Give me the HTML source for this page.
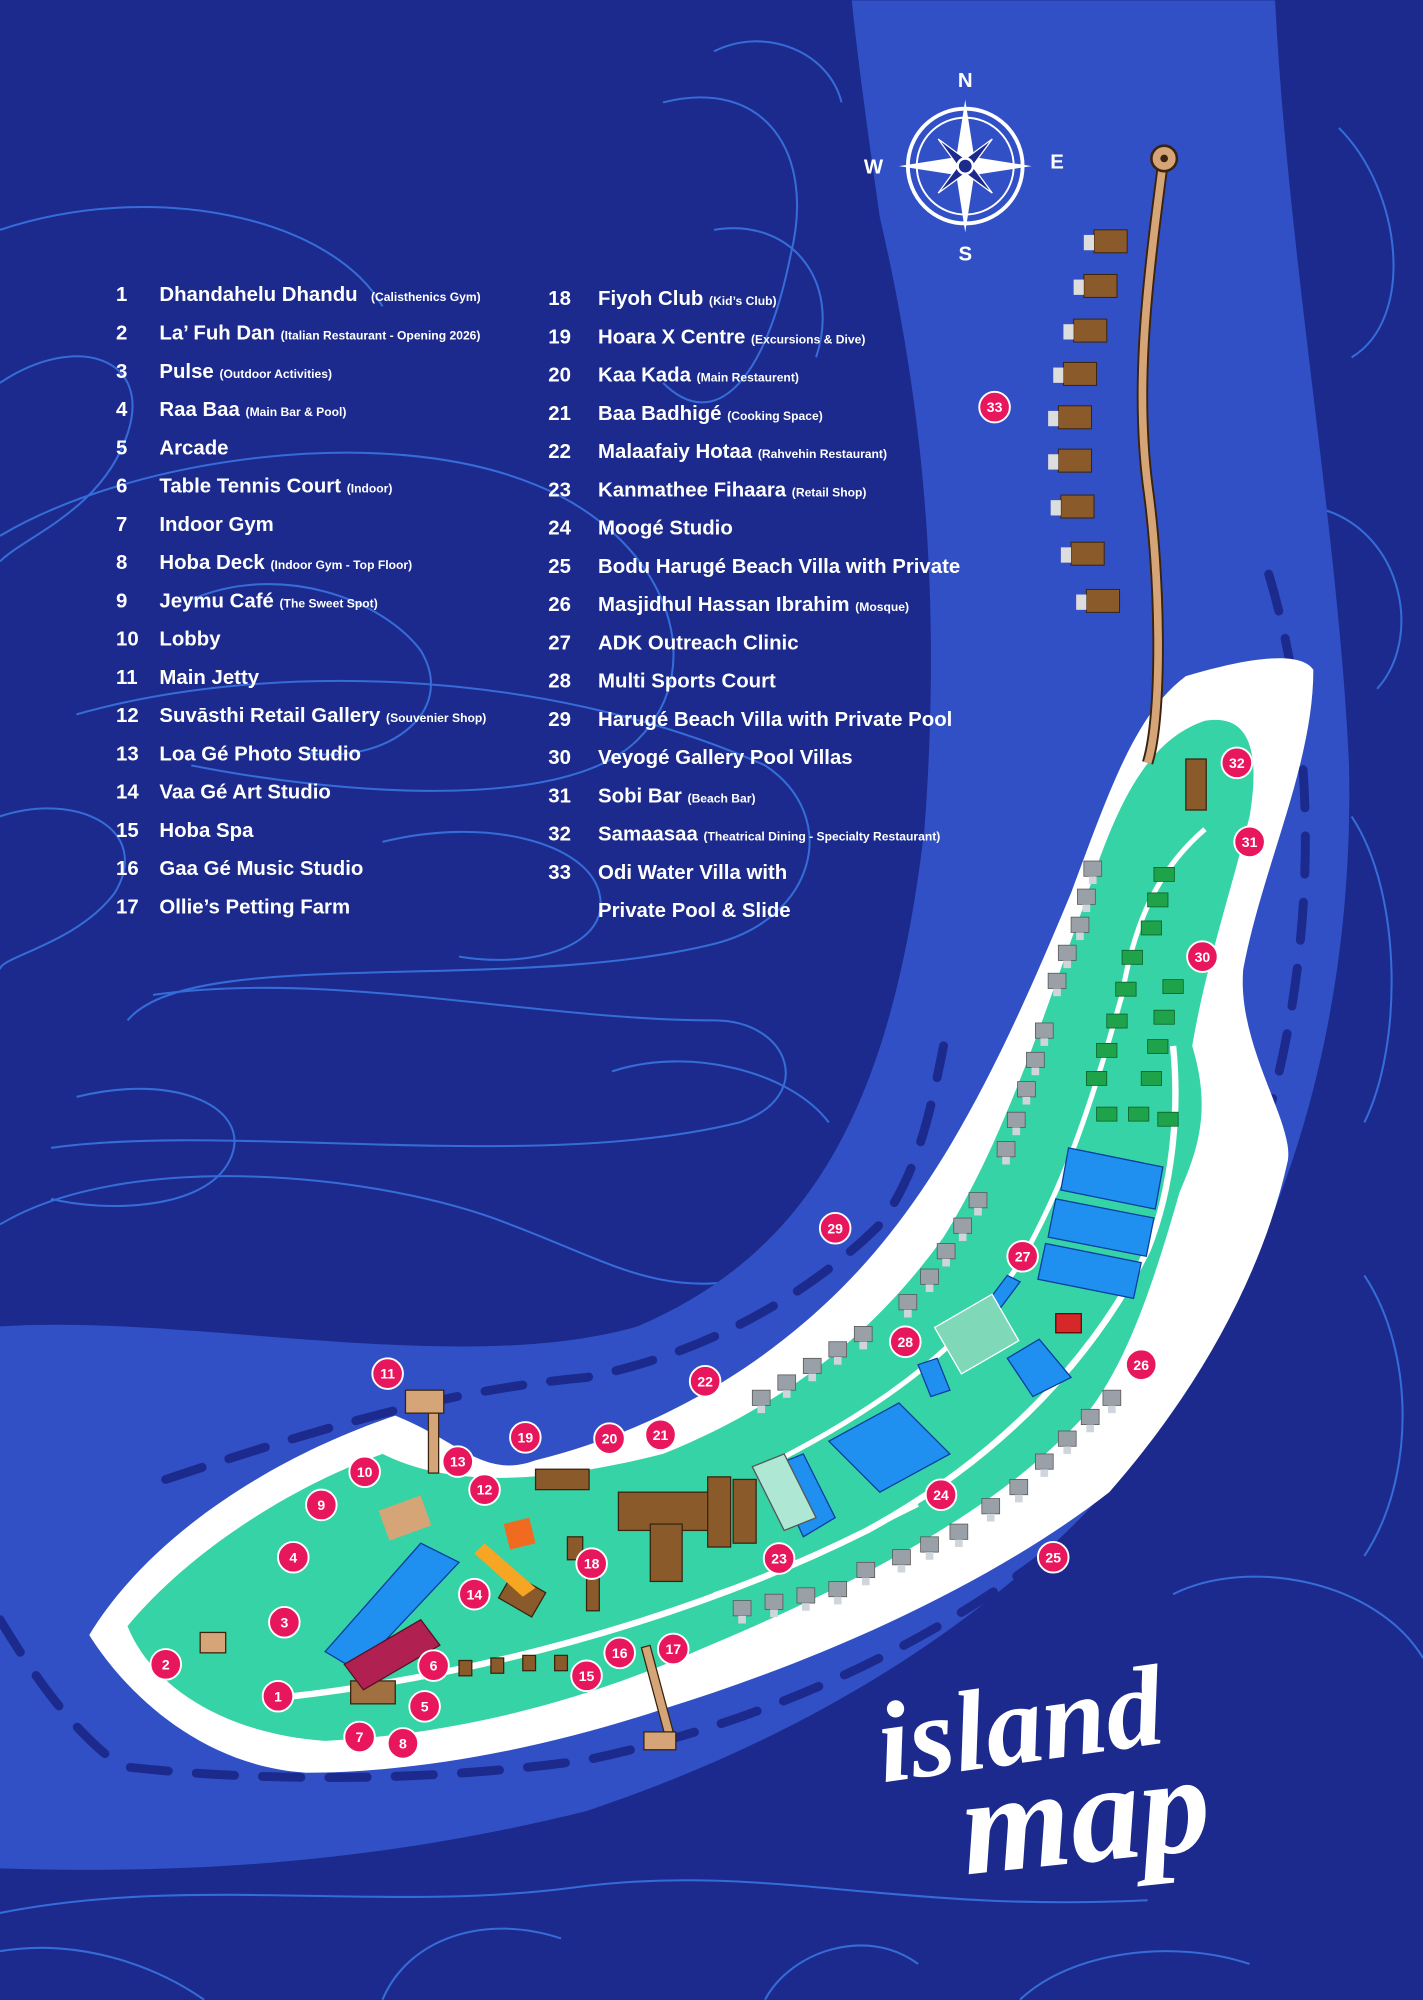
<!DOCTYPE html>
<html><head><meta charset="utf-8"><style>
html,body{margin:0;padding:0;background:#1b2a8c;}
svg{display:block}
.lg{font-family:"Liberation Sans",sans-serif;font-weight:bold;fill:#fff;font-size:16px}
.sm{font-size:9.5px;font-weight:bold}
.mk text{font-family:"Liberation Sans",sans-serif;font-weight:bold;fill:#fff;font-size:11px;text-anchor:middle}
</style></head><body>
<svg width="1423" height="2000" viewBox="0 0 1116 1568" xmlns="http://www.w3.org/2000/svg">
<defs>
<g id="v"><rect x="0" y="0" width="14" height="12" fill="#9aa0a8" stroke="#555" stroke-width="0.6"/><rect x="4" y="12" width="6" height="6" fill="#cfd5da"/></g>
<g id="g"><rect x="0" y="0" width="16" height="11" fill="#1fa34a" stroke="#0c5a25" stroke-width="0.6"/></g>
<g id="w"><rect x="0" y="0" width="26" height="18" fill="#8a5a2b" stroke="#3a240f" stroke-width="0.8"/><rect x="-8" y="4" width="8" height="12" fill="#ddd"/></g>
<circle id="m" r="12" fill="#e8175d" stroke="#fff" stroke-width="1.5"/>
</defs>
<rect width="1116" height="1568" fill="#1b2a8c"/>
<g fill="none" stroke="#3a78e6" stroke-width="1.6" opacity="0.85">
<path d="M0 420 C100 360 300 330 420 380 C520 420 560 520 500 580 C440 640 250 620 150 600"/>
<path d="M60 560 C200 520 420 520 600 600 C660 640 640 720 560 740 C400 780 150 740 100 800"/>
<path d="M120 780 C260 760 420 800 560 800 C620 800 640 860 580 880 C420 920 180 880 40 900"/>
<path d="M520 80 C600 60 640 120 620 200 C600 300 560 340 520 300"/>
<path d="M0 960 C100 900 300 920 400 960 C480 990 520 1020 600 1000"/>
<path d="M0 300 C60 260 120 280 100 340 C80 400 20 420 0 440"/>
<path d="M0 640 C60 620 120 650 90 700 C60 740 0 750 0 760"/>
<path d="M150 470 C220 440 300 470 330 510 C360 560 300 600 240 590"/>
<path d="M300 660 C380 640 460 660 470 700 C480 740 420 760 360 750"/>
<path d="M60 860 C140 840 200 870 180 910 C160 950 80 950 40 940"/>
<path d="M480 840 C540 820 620 840 650 880"/>
<path d="M1050 100 C1100 150 1110 250 1060 280 M1040 400 C1100 420 1116 500 1080 540"/>
<path d="M1060 640 C1100 700 1100 820 1070 880 M1070 1000 C1110 1060 1110 1160 1070 1220"/>
<path d="M920 1250 C980 1220 1080 1240 1116 1300"/>
<path d="M0 1500 C150 1470 300 1500 450 1480 C600 1460 700 1500 900 1490"/>
<path d="M300 1568 C320 1520 380 1500 440 1520 M600 1568 C620 1530 680 1510 720 1540"/>
<path d="M0 1530 C60 1520 120 1540 160 1568 M800 1568 C840 1530 920 1520 980 1540"/>
<path d="M0 180 C120 140 260 170 300 240"/>
<path d="M560 180 C620 170 660 220 640 280"/>
<path d="M560 40 C600 20 650 40 660 80"/>
</g>
<path d="M668 0 L1000 0 C1010 200 1050 420 1058 600 C1062 800 1010 980 900 1130 C800 1260 640 1360 460 1420 C300 1460 150 1470 0 1465 L0 1040 C150 1030 360 1080 500 1040 C640 980 700 860 725 650 C740 450 720 300 690 170 C680 100 672 40 668 0 Z" fill="#3150c6"/>
<g fill="none" stroke="#1b2a8c" stroke-width="7" stroke-linecap="round" stroke-dasharray="30 22">
<path d="M995 450 C1040 600 1030 780 980 920"/>
<path d="M900 1150 C800 1250 650 1340 460 1380 C320 1400 180 1395 95 1385"/>
<path d="M0 1270 C30 1320 60 1360 95 1385"/>
<path d="M130 1160 C250 1120 350 1090 460 1080 C560 1060 640 1010 690 960 C720 920 730 870 740 820"/>
</g>
<path d="M70 1282 C120 1200 220 1140 310 1110 C360 1130 380 1160 420 1145 C520 1120 600 1070 660 1010 C740 930 790 820 840 700 C870 620 890 560 930 530 C980 515 1020 510 1030 525 C1030 600 990 680 975 760 C970 820 1015 880 1010 910 C990 1000 940 1090 870 1170 C780 1240 650 1300 520 1340 C430 1370 330 1390 240 1390 C160 1385 100 1330 70 1282 Z" fill="#ffffff"/>
<path d="M100 1275 C150 1215 230 1165 300 1140 C350 1165 420 1165 520 1140 C620 1100 690 1040 740 970 C790 890 820 790 850 710 C875 630 900 580 945 565 C975 560 990 580 980 640 C965 700 945 760 935 820 C950 870 940 900 925 935 C905 1005 885 1065 855 1105 C785 1185 665 1245 545 1295 C455 1335 355 1360 255 1365 C180 1360 120 1325 100 1275 Z" fill="#35d3a6"/>
<path d="M230 1330 C400 1310 560 1260 680 1200 C790 1140 860 1060 900 980 C920 930 925 870 920 820" fill="none" stroke="#fff" stroke-width="5"/>
<path d="M600 1150 C700 1100 760 1050 800 990 C840 920 860 850 880 780 C890 720 910 680 945 650" fill="none" stroke="#fff" stroke-width="4"/>
<path d="M560 1250 C620 1230 680 1200 720 1180" fill="none" stroke="#fff" stroke-width="3"/>
<path d="M900 598 C912 560 910 450 900 380 C890 300 900 220 912 128" fill="none" stroke="#3a240f" stroke-width="9"/>
<path d="M900 598 C912 560 910 450 900 380 C890 300 900 220 912 128" fill="none" stroke="#d6a577" stroke-width="6"/>
<circle cx="913" cy="124" r="10" fill="#d6a577" stroke="#3a240f" stroke-width="2"/><circle cx="913" cy="124" r="3" fill="#3a240f"/>
<use href="#w" x="858" y="180"/><use href="#w" x="850" y="215"/><use href="#w" x="842" y="250"/><use href="#w" x="834" y="284"/>
<use href="#w" x="830" y="318"/><use href="#w" x="830" y="352"/><use href="#w" x="832" y="388"/><use href="#w" x="840" y="425"/><use href="#w" x="852" y="462"/>
<rect x="930" y="595" width="16" height="40" fill="#8a5a2b" stroke="#3a240f"/>
<g>
<use href="#g" x="905" y="680"/><use href="#g" x="900" y="700"/><use href="#g" x="895" y="722"/><use href="#g" x="880" y="745"/><use href="#g" x="912" y="768"/><use href="#g" x="875" y="770"/><use href="#g" x="905" y="792"/><use href="#g" x="868" y="795"/><use href="#g" x="900" y="815"/><use href="#g" x="860" y="818"/><use href="#g" x="895" y="840"/><use href="#g" x="852" y="840"/><use href="#g" x="860" y="868"/><use href="#g" x="885" y="868"/><use href="#g" x="908" y="872"/>
</g>
<g>
<use href="#v" x="850" y="675"/><use href="#v" x="845" y="697"/><use href="#v" x="840" y="719"/><use href="#v" x="830" y="741"/><use href="#v" x="822" y="763"/><use href="#v" x="812" y="802"/><use href="#v" x="805" y="825"/><use href="#v" x="798" y="848"/><use href="#v" x="790" y="872"/><use href="#v" x="782" y="895"/><use href="#v" x="760" y="935"/><use href="#v" x="748" y="955"/><use href="#v" x="735" y="975"/><use href="#v" x="722" y="995"/><use href="#v" x="705" y="1015"/><use href="#v" x="670" y="1040"/><use href="#v" x="650" y="1052"/><use href="#v" x="630" y="1065"/><use href="#v" x="610" y="1078"/><use href="#v" x="590" y="1090"/>
</g>
<g>
<use href="#v" x="575" y="1255"/><use href="#v" x="600" y="1250"/><use href="#v" x="625" y="1245"/><use href="#v" x="650" y="1240"/><use href="#v" x="672" y="1225"/><use href="#v" x="700" y="1215"/><use href="#v" x="722" y="1205"/><use href="#v" x="745" y="1195"/><use href="#v" x="770" y="1175"/><use href="#v" x="792" y="1160"/><use href="#v" x="812" y="1140"/><use href="#v" x="830" y="1122"/><use href="#v" x="848" y="1105"/><use href="#v" x="865" y="1090"/>
</g>
<g fill="#1f8ff0" stroke="#0a3d9e" stroke-width="1">
<polygon points="838,900 912,915 906,948 832,933"/>
<polygon points="828,940 905,955 899,985 822,970"/>
<polygon points="820,975 895,990 889,1018 814,1003"/>
<polygon points="650,1130 705,1100 745,1140 690,1170"/>
<polygon points="605,1150 630,1140 655,1190 630,1205"/>
<polygon points="790,1065 815,1050 840,1080 810,1095"/>
<polygon points="720,1070 735,1065 745,1090 730,1095"/>
<polygon points="255,1295 330,1210 360,1225 280,1310"/>
<polygon points="775,1020 790,1000 800,1005 785,1025"/>
</g>
<rect x="740" y="1025" width="52" height="42" fill="#7fd9b8" stroke="#fff" transform="rotate(-30 766 1046)"/>
<polygon points="590,1150 615,1140 640,1190 615,1200" fill="#aee8d5" stroke="#555"/>
<g fill="#8a5a2b" stroke="#3a240f" stroke-width="1">
<rect x="485" y="1170" width="80" height="30"/><rect x="510" y="1195" width="25" height="45"/><rect x="555" y="1158" width="18" height="55"/><rect x="575" y="1160" width="18" height="50"/>
<rect x="420" y="1152" width="42" height="16"/><rect x="445" y="1205" width="12" height="18"/><rect x="460" y="1235" width="10" height="28"/>
<rect x="395" y="1240" width="30" height="22" transform="rotate(30 410 1250)"/><rect x="360" y="1302" width="10" height="12"/><rect x="385" y="1300" width="10" height="12"/><rect x="410" y="1298" width="10" height="12"/><rect x="435" y="1298" width="10" height="12"/>
<rect x="275" y="1318" width="35" height="18" fill="#a07040"/><rect x="157" y="1280" width="20" height="16" fill="#d6a577"/>
</g>
<polygon points="270,1305 330,1270 345,1290 285,1325" fill="#b02050" stroke="#5a0f25"/>
<polygon points="395,1195 415,1190 420,1210 400,1215" fill="#f06a20"/>
<rect x="300" y="1178" width="35" height="25" fill="#d6a577" transform="rotate(-20 317 1190)"/>
<polygon points="380,1210 420,1245 410,1252 372,1218" fill="#f6a623"/>
<rect x="828" y="1030" width="20" height="15" fill="#d62828" stroke="#600"/>
<rect x="336" y="1100" width="8" height="55" fill="#d6a577" stroke="#3a240f"/><rect x="318" y="1090" width="30" height="18" fill="#d6a577" stroke="#3a240f"/>
<rect x="512" y="1290" width="7" height="70" fill="#d6a577" stroke="#3a240f" transform="rotate(-15 515 1325)"/><rect x="505" y="1358" width="25" height="14" fill="#d6a577" stroke="#3a240f"/>
<g transform="translate(757,130)" fill="#fff">
<circle r="45" fill="none" stroke="#fff" stroke-width="3"/><circle r="38" fill="none" stroke="#fff" stroke-width="1.5"/>
<polygon points="0,-52 7,-7 52,0 7,7 0,52 -7,7 -52,0 -7,-7"/>
<polygon points="0,-30 4,-4 30,0 4,4 0,30 -4,4 -30,0 -4,-4" transform="rotate(45)" fill="#1b2a8c" stroke="#fff"/>
<circle r="6" fill="#1b2a8c" stroke="#fff" stroke-width="2"/>
<text x="0" y="-62" text-anchor="middle" class="lg">N</text>
<text x="0" y="74" text-anchor="middle" class="lg">S</text>
<text x="-72" y="6" text-anchor="middle" class="lg">W</text>
<text x="72" y="2" text-anchor="middle" class="lg">E</text>
</g>
<g class="lg">
<text x="91" y="236">1</text><text x="125" y="236">Dhandahelu Dhandu <tspan class="sm" dx="6">(Calisthenics Gym)</tspan></text>
<text x="91" y="266">2</text><text x="125" y="266">La’ Fuh Dan <tspan class="sm">(Italian Restaurant - Opening 2026)</tspan></text>
<text x="91" y="296">3</text><text x="125" y="296">Pulse <tspan class="sm">(Outdoor Activities)</tspan></text>
<text x="91" y="326">4</text><text x="125" y="326">Raa Baa <tspan class="sm">(Main Bar &amp; Pool)</tspan></text>
<text x="91" y="356">5</text><text x="125" y="356">Arcade</text>
<text x="91" y="386">6</text><text x="125" y="386">Table Tennis Court <tspan class="sm">(Indoor)</tspan></text>
<text x="91" y="416">7</text><text x="125" y="416">Indoor Gym</text>
<text x="91" y="446">8</text><text x="125" y="446">Hoba Deck <tspan class="sm">(Indoor Gym - Top Floor)</tspan></text>
<text x="91" y="476">9</text><text x="125" y="476">Jeymu Café <tspan class="sm">(The Sweet Spot)</tspan></text>
<text x="91" y="506">10</text><text x="125" y="506">Lobby</text>
<text x="91" y="536">11</text><text x="125" y="536">Main Jetty</text>
<text x="91" y="566">12</text><text x="125" y="566">Suvāsthi Retail Gallery <tspan class="sm">(Souvenier Shop)</tspan></text>
<text x="91" y="596">13</text><text x="125" y="596">Loa Gé Photo Studio</text>
<text x="91" y="626">14</text><text x="125" y="626">Vaa Gé Art Studio</text>
<text x="91" y="656">15</text><text x="125" y="656">Hoba Spa</text>
<text x="91" y="686">16</text><text x="125" y="686">Gaa Gé Music Studio</text>
<text x="91" y="716">17</text><text x="125" y="716">Ollie’s Petting Farm</text>
<text x="430" y="239">18</text><text x="469" y="239">Fiyoh Club <tspan class="sm">(Kid’s Club)</tspan></text>
<text x="430" y="269">19</text><text x="469" y="269">Hoara X Centre <tspan class="sm">(Excursions &amp; Dive)</tspan></text>
<text x="430" y="299">20</text><text x="469" y="299">Kaa Kada <tspan class="sm">(Main Restaurent)</tspan></text>
<text x="430" y="329">21</text><text x="469" y="329">Baa Badhigé <tspan class="sm">(Cooking Space)</tspan></text>
<text x="430" y="359">22</text><text x="469" y="359">Malaafaiy Hotaa <tspan class="sm">(Rahvehin Restaurant)</tspan></text>
<text x="430" y="389">23</text><text x="469" y="389">Kanmathee Fihaara <tspan class="sm">(Retail Shop)</tspan></text>
<text x="430" y="419">24</text><text x="469" y="419">Moogé Studio</text>
<text x="430" y="449">25</text><text x="469" y="449">Bodu Harugé Beach Villa with Private</text>
<text x="430" y="479">26</text><text x="469" y="479">Masjidhul Hassan Ibrahim <tspan class="sm">(Mosque)</tspan></text>
<text x="430" y="509">27</text><text x="469" y="509">ADK Outreach Clinic</text>
<text x="430" y="539">28</text><text x="469" y="539">Multi Sports Court</text>
<text x="430" y="569">29</text><text x="469" y="569">Harugé Beach Villa with Private Pool</text>
<text x="430" y="599">30</text><text x="469" y="599">Veyogé Gallery Pool Villas</text>
<text x="430" y="629">31</text><text x="469" y="629">Sobi Bar <tspan class="sm">(Beach Bar)</tspan></text>
<text x="430" y="659">32</text><text x="469" y="659">Samaasaa <tspan class="sm">(Theatrical Dining - Specialty Restaurant)</tspan></text>
<text x="430" y="689">33</text><text x="469" y="689">Odi Water Villa with</text>
<text x="469" y="719">Private Pool &amp; Slide</text>
</g>
<g class="mk">
<g transform="translate(218,1330)"><use href="#m"/><text y="4">1</text></g>
<g transform="translate(130,1305)"><use href="#m"/><text y="4">2</text></g>
<g transform="translate(223,1272)"><use href="#m"/><text y="4">3</text></g>
<g transform="translate(230,1221)"><use href="#m"/><text y="4">4</text></g>
<g transform="translate(333,1338)"><use href="#m"/><text y="4">5</text></g>
<g transform="translate(340,1306)"><use href="#m"/><text y="4">6</text></g>
<g transform="translate(282,1362)"><use href="#m"/><text y="4">7</text></g>
<g transform="translate(316,1367)"><use href="#m"/><text y="4">8</text></g>
<g transform="translate(252,1180)"><use href="#m"/><text y="4">9</text></g>
<g transform="translate(286,1154)"><use href="#m"/><text y="4">10</text></g>
<g transform="translate(304,1077)"><use href="#m"/><text y="4">11</text></g>
<g transform="translate(380,1168)"><use href="#m"/><text y="4">12</text></g>
<g transform="translate(359,1146)"><use href="#m"/><text y="4">13</text></g>
<g transform="translate(372,1250)"><use href="#m"/><text y="4">14</text></g>
<g transform="translate(460,1314)"><use href="#m"/><text y="4">15</text></g>
<g transform="translate(486,1296)"><use href="#m"/><text y="4">16</text></g>
<g transform="translate(528,1293)"><use href="#m"/><text y="4">17</text></g>
<g transform="translate(464,1226)"><use href="#m"/><text y="4">18</text></g>
<g transform="translate(412,1127)"><use href="#m"/><text y="4">19</text></g>
<g transform="translate(478,1128)"><use href="#m"/><text y="4">20</text></g>
<g transform="translate(518,1125)"><use href="#m"/><text y="4">21</text></g>
<g transform="translate(553,1083)"><use href="#m"/><text y="4">22</text></g>
<g transform="translate(611,1222)"><use href="#m"/><text y="4">23</text></g>
<g transform="translate(738,1172)"><use href="#m"/><text y="4">24</text></g>
<g transform="translate(826,1221)"><use href="#m"/><text y="4">25</text></g>
<g transform="translate(895,1070)"><use href="#m"/><text y="4">26</text></g>
<g transform="translate(802,985)"><use href="#m"/><text y="4">27</text></g>
<g transform="translate(710,1052)"><use href="#m"/><text y="4">28</text></g>
<g transform="translate(655,963)"><use href="#m"/><text y="4">29</text></g>
<g transform="translate(943,750)"><use href="#m"/><text y="4">30</text></g>
<g transform="translate(980,660)"><use href="#m"/><text y="4">31</text></g>
<g transform="translate(970,598)"><use href="#m"/><text y="4">32</text></g>
<g transform="translate(780,319)"><use href="#m"/><text y="4">33</text></g>
</g>
<g font-family="'Liberation Serif',serif" font-style="italic" font-weight="bold" fill="#fff">
<text x="688" y="1385" font-size="90" transform="rotate(-8 780 1360)">island</text>
<text x="755" y="1460" font-size="110" transform="rotate(-6 850 1440)">map</text>
</g>
</svg>
</body></html>
